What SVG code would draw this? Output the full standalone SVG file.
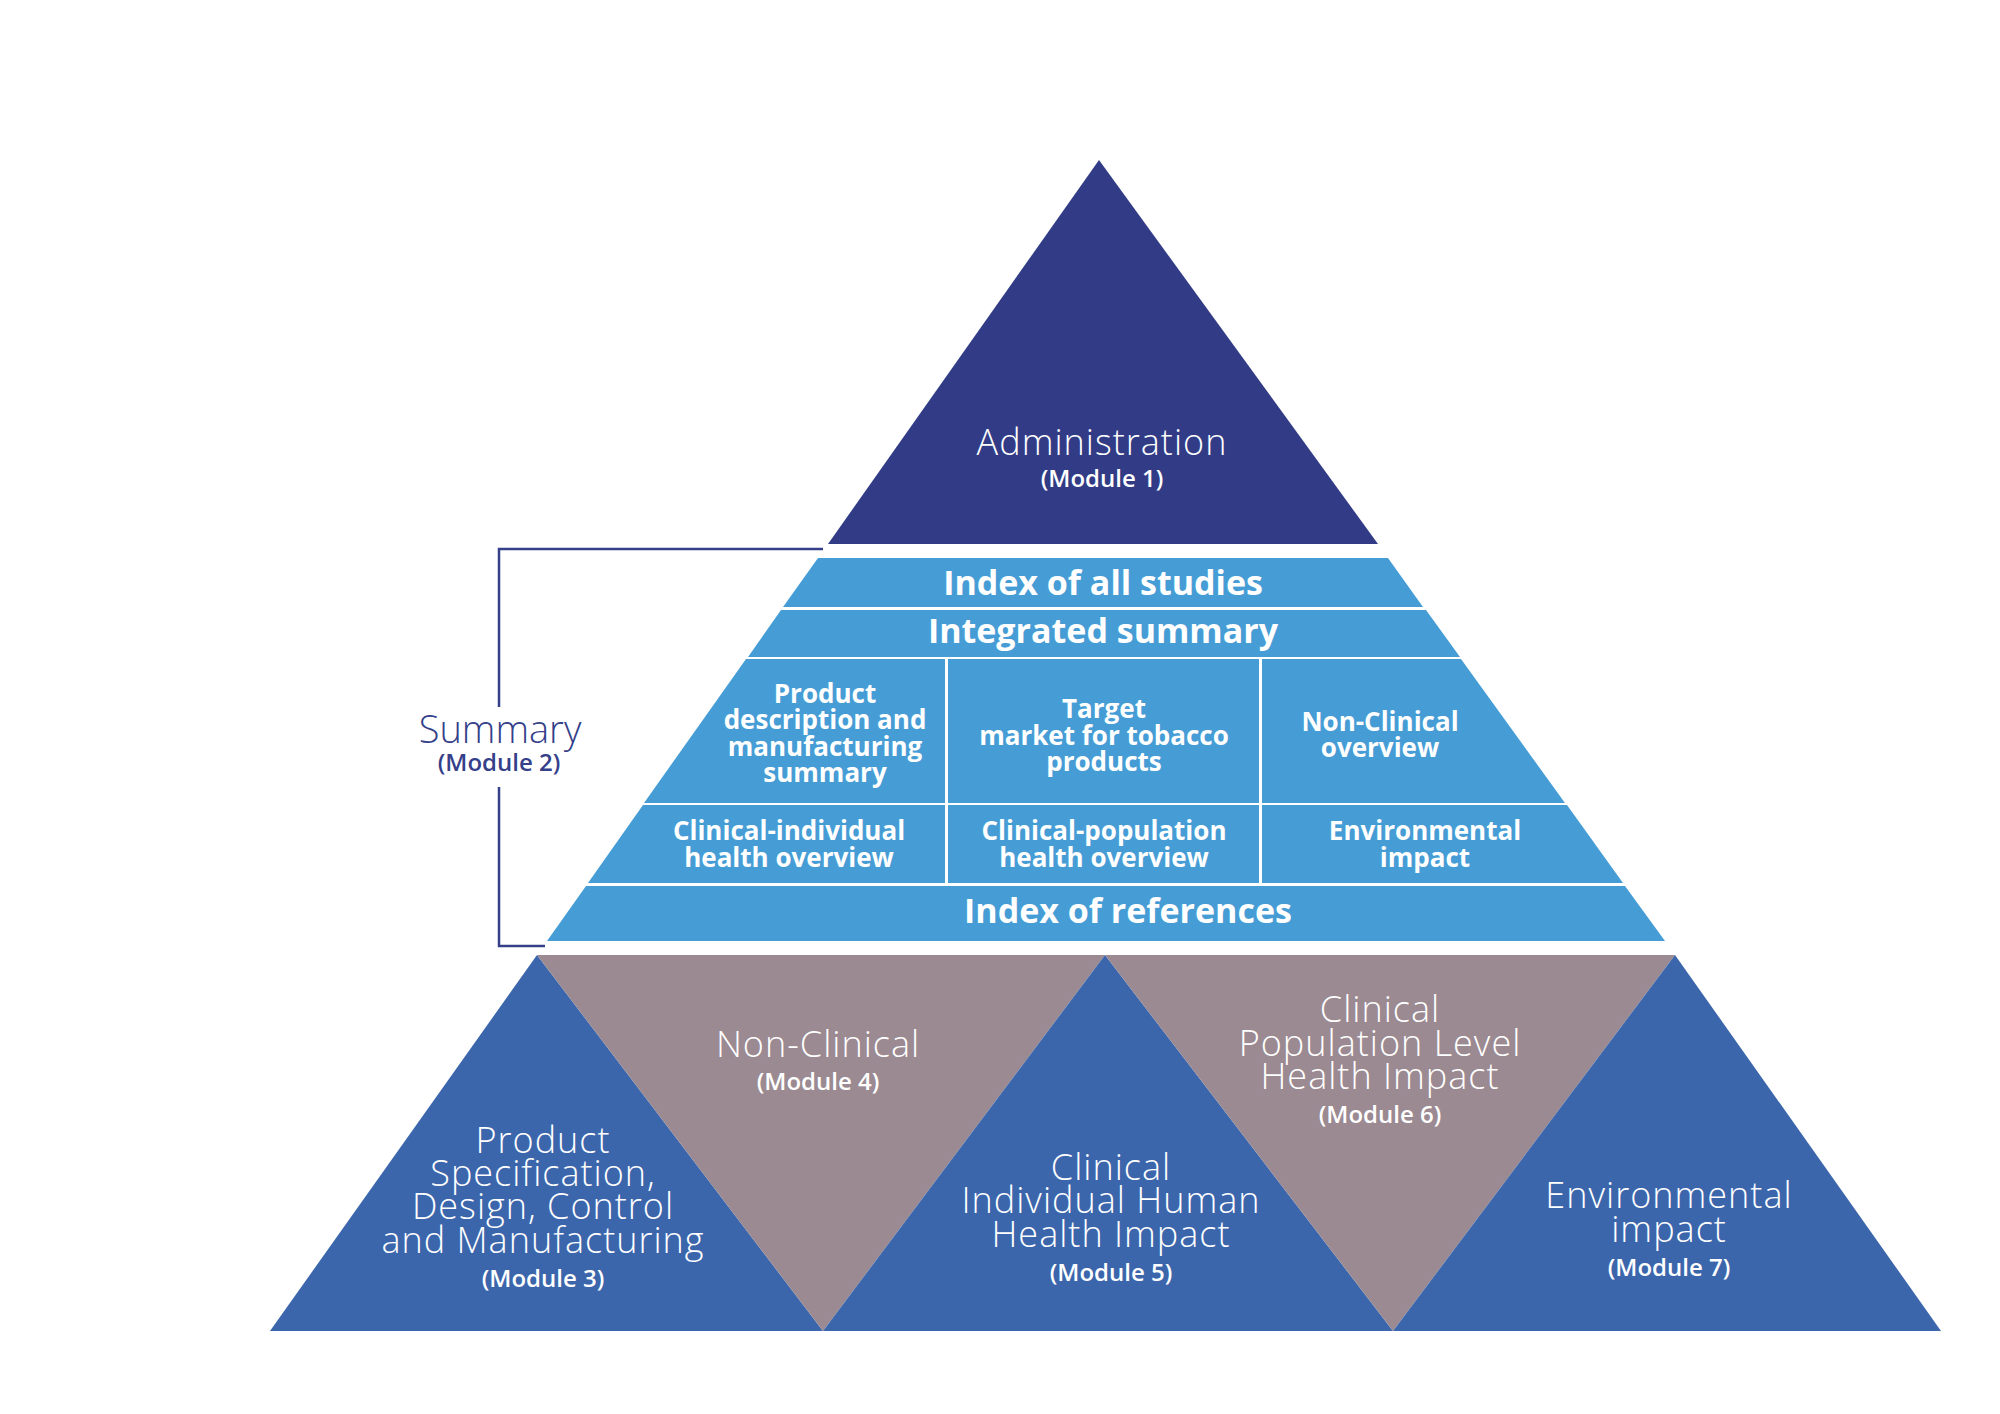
<svg xmlns="http://www.w3.org/2000/svg" width="2000" height="1414" viewBox="0 0 2000 1414">
<style>
.bg{fill:#ffffff}
.navy{fill:#323c86}
.light{fill:#469dd6}
.blue{fill:#3c66ac}
.gray{fill:#9b8a92}
.t{font-family:"Open Sans","Liberation Sans",sans-serif;fill:#ffffff;text-anchor:middle}
.lt{font-weight:300;letter-spacing:1px}
.bd{font-weight:700}
.sb{font-weight:600}
.big{font-size:36px}
.band{font-size:34px}
.cell{font-size:26px}
.mod{font-size:24px}
.nv{fill:#353f8a}
.br{fill:none;stroke:#353f8a;stroke-width:2.5}
</style>
<rect class="bg" x="0" y="0" width="2000" height="1414"/>
<g id="connectors">
<path class="br" d="M823 549 H499 V707 M499 787 V946 H545"/>
</g>
<g id="module1">
<polygon class="navy" points="1099,160 828,544 1378,544"/>
<text class="t lt big" x="1102" y="455">Administration</text>
<text class="t sb mod" x="1102" y="487">(Module 1)</text>
</g>
<g id="summary-label">
<text class="t nv" x="500" y="743" font-size="38" font-weight="300">Summary</text>
<text class="t sb nv mod" x="499" y="771">(Module 2)</text>
</g>
<g id="index-all-studies">
<polygon class="light" points="818,558 1388,558 1423,607 783,607"/>
<text class="t bd band" x="1103" y="595">Index of all studies</text>
</g>
<g id="integrated-summary">
<polygon class="light" points="781,610 1426,610 1460,657 748,657"/>
<text class="t bd band" x="1103" y="643">Integrated summary</text>
</g>
<g id="product-description">
<polygon class="light" points="746,659 945,659 945,803 644,803"/>
<text class="t bd cell" x="825" y="703">Product</text>
<text class="t bd cell" x="825" y="729">description and</text>
<text class="t bd cell" x="825" y="756">manufacturing</text>
<text class="t bd cell" x="825" y="782">summary</text>
</g>
<g id="target-market">
<polygon class="light" points="948,659 1259,659 1259,803 948,803"/>
<text class="t bd cell" x="1104" y="718">Target</text>
<text class="t bd cell" x="1104" y="745">market for tobacco</text>
<text class="t bd cell" x="1104" y="771">products</text>
</g>
<g id="non-clinical-overview">
<polygon class="light" points="1262,659 1461,659 1565,803 1262,803"/>
<text class="t bd cell" x="1380" y="731">Non-Clinical</text>
<text class="t bd cell" x="1380" y="757">overview</text>
</g>
<g id="clinical-individual-overview">
<polygon class="light" points="643,805 945,805 945,883 588,883"/>
<text class="t bd cell" x="789" y="840">Clinical-individual</text>
<text class="t bd cell" x="789" y="867">health overview</text>
</g>
<g id="clinical-population-overview">
<polygon class="light" points="948,805 1259,805 1259,883 948,883"/>
<text class="t bd cell" x="1104" y="840">Clinical-population</text>
<text class="t bd cell" x="1104" y="867">health overview</text>
</g>
<g id="environmental-overview">
<polygon class="light" points="1262,805 1567,805 1623,883 1262,883"/>
<text class="t bd cell" x="1425" y="840">Environmental</text>
<text class="t bd cell" x="1425" y="867">impact</text>
</g>
<g id="index-references">
<polygon class="light" points="586,886 1625,886 1665,941 547,941"/>
<text class="t bd band" x="1128" y="923">Index of references</text>
</g>
<g id="module3">
<polygon class="blue" points="537,955 270,1331 823,1331"/>
<text class="t lt big" x="543" y="1153">Product</text>
<text class="t lt big" x="543" y="1186">Specification,</text>
<text class="t lt big" x="543" y="1219">Design, Control</text>
<text class="t lt big" x="543" y="1253">and Manufacturing</text>
<text class="t sb mod" x="543" y="1287">(Module 3)</text>
</g>
<g id="module4">
<polygon class="gray" points="537,955 1105,955 823,1331"/>
<text class="t lt big" x="818" y="1057">Non-Clinical</text>
<text class="t sb mod" x="818" y="1090">(Module 4)</text>
</g>
<g id="module5">
<polygon class="blue" points="1105,955 823,1331 1393,1331"/>
<text class="t lt big" x="1111" y="1180">Clinical</text>
<text class="t lt big" x="1111" y="1213">Individual Human</text>
<text class="t lt big" x="1111" y="1247">Health Impact</text>
<text class="t sb mod" x="1111" y="1281">(Module 5)</text>
</g>
<g id="module6">
<polygon class="gray" points="1105,955 1675,955 1393,1331"/>
<text class="t lt big" x="1380" y="1022">Clinical</text>
<text class="t lt big" x="1380" y="1056">Population Level</text>
<text class="t lt big" x="1380" y="1089">Health Impact</text>
<text class="t sb mod" x="1380" y="1123">(Module 6)</text>
</g>
<g id="module7">
<polygon class="blue" points="1675,955 1393,1331 1941,1331"/>
<text class="t lt big" x="1669" y="1208">Environmental</text>
<text class="t lt big" x="1669" y="1242">impact</text>
<text class="t sb mod" x="1669" y="1276">(Module 7)</text>
</g>
</svg>
